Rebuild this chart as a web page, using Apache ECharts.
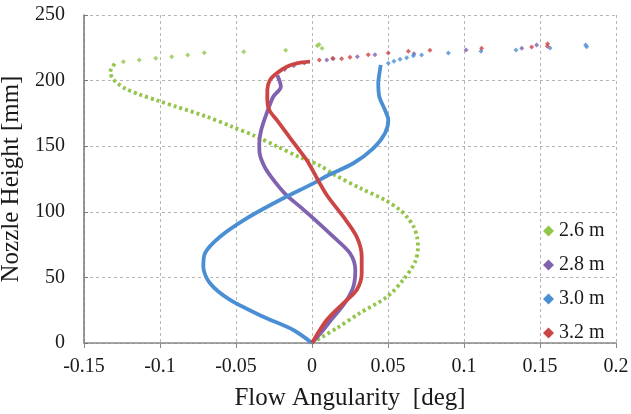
<!DOCTYPE html>
<html>
<head>
<meta charset="utf-8">
<script src="https://cdn.jsdelivr.net/npm/echarts@6/dist/echarts.min.js"></script>
<style>
html,body{margin:0;padding:0;background:#fff;}
#chart{width:631px;height:414px;}
</style>
</head>
<body>
<div id="chart"></div>
<script>
// ---- tick labels ----
const xTickLabels = ['-0.15','-0.1','-0.05','0','0.05','0.1','0.15','0.2'];
const yTickLabels = ['0','50','100','150','200','250'];
const seriesNames = ['2.6 m','2.8 m','3.0 m','3.2 m'];

// ---- 2.6 m (dense profile, then sparse top points) ----
const s26 = [[0,0],[0.0164,11.4],[0.0316,22.9],[0.0493,35.1],[0.0599,48],[0.0678,61.7],[0.0697,73.2],[0.0691,80.8],[0.067,88.4],[0.0625,96],[0.0579,101.4],[0.048,109],[0.0316,118.1],[0.0151,128],[0.005,135.3],[-0.0079,141.5],[-0.0233,150],[-0.0375,157.8],[-0.0528,165],[-0.0693,172.5],[-0.0890,180],[-0.1011,184.6],[-0.1132,189.3],[-0.1225,193.7],[-0.1278,197.8],[-0.1310,201.5],[-0.1328,206.3],[-0.1293,213.6]];
const s26Tail = [[-0.1241,214.4],[-0.1136,215.7],[-0.1028,217],[-0.0923,218.2],[-0.0818,219.5],[-0.0709,221.3],[-0.0449,222],[-0.0173,223.1],[0.0035,226.6],[0.0046,227.6],[0.0066,224.6]];

// ---- 2.8 m ----
const s28 = [[0,0],[0.006,8],[0.0125,17.5],[0.0215,30.3],[0.0272,42.9],[0.0285,55.6],[0.025,68.4],[0.014,81],[0.0009,95],[-0.0079,103.9],[-0.0175,113.5],[-0.0265,126],[-0.0315,135],[-0.0345,145],[-0.0347,152],[-0.0335,162],[-0.0298,175.1],[-0.0255,187.7],[-0.0205,195.4],[-0.0228,204]];
const s28Tail = [[-0.018,208.5],[-0.012,211.3],[-0.005,213.4],[0.0097,215.7],[0.014,216.7],[0.0298,218.2],[0.0414,219.7],[0.0671,220.5],[0.1013,223.3],[0.138,224.6],[0.1478,227.1]];

// ---- 3.0 m ----
const s30 = [[0,0],[-0.0123,9.9],[-0.032,20],[-0.0539,32.8],[-0.0671,45.5],[-0.0715,58.2],[-0.0704,68.4],[-0.0605,81],[-0.043,95],[-0.0211,109],[0.0009,121.7],[0.0097,127.3],[0.0272,137],[0.0403,148.4],[0.048,159.8],[0.0502,170],[0.048,177.6],[0.0443,187.7],[0.0436,197.9],[0.0447,208.1],[0.0452,211.9]];
const s30Tail = [[0.0502,213.2],[0.0539,214.7],[0.0579,216.2],[0.0623,217.5],[0.0667,219],[0.0721,219.5],[0.0897,221],[0.1112,222.3],[0.1342,223.3],[0.1566,224.8],[0.18,227.1],[0.1807,225.8]];

// ---- 3.2 m ----
const s32 = [[0,0],[0.0097,17.5],[0.0206,30.3],[0.0294,40.4],[0.0327,53.1],[0.0327,65.8],[0.0294,81],[0.0206,96.3],[0.0097,112.8],[0.0009,130.6],[-0.0035,139.5],[-0.0101,149.6],[-0.0166,159.8],[-0.0232,170],[-0.0281,177.6],[-0.0294,185.2],[-0.0294,192.8],[-0.0276,200.5],[-0.0232,205.6],[-0.0166,210.6],[-0.0101,213.2],[-0.0013,214.4]];
const s32Tail = [[0.0048,215.7],[0.0136,217],[0.0195,216.7],[0.025,217.8],[0.037,219.7],[0.0502,221],[0.0634,222.3],[0.0776,223.1],[0.1116,224.6],[0.1445,225.6],[0.155,228],[0.1548,226.2]];

const colors = ['#93c54b','#8062ae','#4a8ed4','#cc4545'];
const dense = [s26, s28, s30, s32];
const tails = [s26Tail, s28Tail, s30Tail, s32Tail];

const FONT = 'Liberation Serif';
const xMin = -0.15, xMax = 0.2, xStep = 0.05;
const yMin = 0, yMax = 250, yStep = 50;

const series = [];
seriesNames.forEach((n, i) => {
  series.push({
    name: n, type: 'line', data: dense[i], smooth: 0.3, showSymbol: false,
    symbol: 'diamond', color: colors[i],
    lineStyle: { width: 3.8, color: colors[i], type: i === 0 ? [3, 3] : 'solid' },
    z: 2 + i
  });
});
seriesNames.forEach((n, i) => {
  series.push({
    name: n, type: 'scatter', data: tails[i], symbol: 'diamond', symbolSize: 5,
    itemStyle: { color: colors[i] }, z: 2 + i
  });
});

const chart = echarts.init(document.getElementById('chart'));
chart.setOption({
  animation: false,
  backgroundColor: '#fff',
  grid: { left: 84, right: 15, top: 15, bottom: 71, containLabel: false, outerBoundsMode: 'none' },
  xAxis: {
    type: 'value', min: xMin, max: xMax, interval: xStep,
    name: 'Flow Angularity  [deg]', nameLocation: 'middle', nameGap: 43,
    nameTextStyle: { fontFamily: FONT, fontSize: 25, color: '#1a1a1a' },
    axisLine: { show: true, onZero: false, lineStyle: { color: '#888', width: 1.5 } },
    axisTick: { show: true, length: 5, lineStyle: { color: '#888' } },
    axisLabel: { fontFamily: FONT, fontSize: 20, color: '#1a1a1a', margin: 14,
      formatter: v => xTickLabels[Math.round((v - xMin) / xStep)] },
    splitLine: { show: true, lineStyle: { color: '#b5b5b5', type: [3, 3], width: 1 } }
  },
  yAxis: [{
    type: 'value', min: yMin, max: yMax, interval: yStep,
    name: 'Nozzle Height [mm]', nameLocation: 'middle', nameGap: 50,
    nameTextStyle: { fontFamily: FONT, fontSize: 25, color: '#1a1a1a' },
    axisLine: { show: false },
    axisTick: { show: false },
    axisLabel: { fontFamily: FONT, fontSize: 20, color: '#1a1a1a', margin: 19,
      formatter: v => yTickLabels[Math.round((v - yMin) / yStep)] },
    splitLine: { show: true, lineStyle: { color: '#b5b5b5', type: [3, 3], width: 1 } }
  }, {
    type: 'value', min: yMin, max: yMax, interval: yStep, position: 'left',
    axisLine: { show: true, onZero: true, lineStyle: { color: '#777', width: 1.5 } },
    axisTick: { show: true, inside: true, length: 4, lineStyle: { color: '#777' } },
    axisLabel: { show: false },
    splitLine: { show: false }
  }],
  legend: {
    orient: 'vertical', left: 538, top: 216, itemWidth: 11, itemHeight: 11, itemGap: 14,
    data: seriesNames.map(n => ({ name: n, icon: 'diamond' })),
    textStyle: { fontFamily: FONT, fontSize: 20, color: '#1a1a1a' }
  },
  series: series
});
</script>
</body>
</html>
